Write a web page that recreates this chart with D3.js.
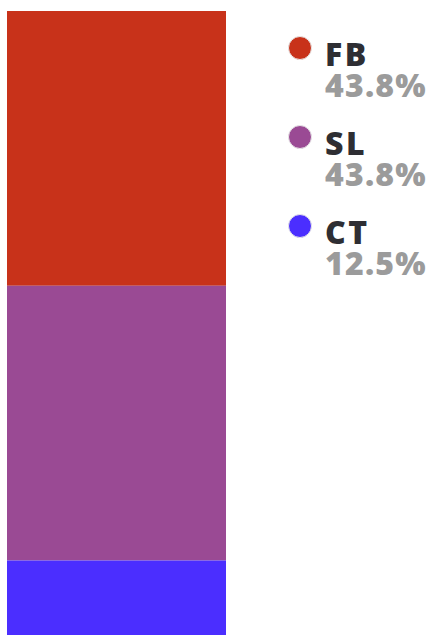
<!DOCTYPE html>
<html>
<head>
<meta charset="utf-8">
<script src="https://cdn.jsdelivr.net/npm/d3@7"></script>
<style>
  html, body { margin: 0; padding: 0; background: #fff; overflow: hidden; }
</style>
</head>
<body>
<div id="canvas"></div>
<script>
"use strict"

/* data */
let categories = ["FB", "SL", "CT"]
let counts = [7, 7, 2]
let colors = ["#c8321a", "#9a4a94", "#4b2eff"]

/* canvas */
let svgWidth = 431
let svgHeight = 635

let svg = d3.select("#canvas")
    .append("svg")
    .attr("width", svgWidth)
    .attr("height", svgHeight)

let total = d3.sum(counts)
let pct = d3.format(".1%")

/* stack the single bar, first category on top */
let rows = []
let acc = 0
categories.forEach(function (c, i) {
    rows.push({ key: c, y0: acc, y1: acc + counts[i], value: counts[i], color: colors[i] })
    acc += counts[i]
})

let yScale = d3.scaleLinear()
    .domain([0, total])
    .range([11, 639])         // bar runs a little past the bottom edge

let xScale = d3.scaleBand()
    .domain(["all"])
    .range([7, 226])
    .padding(0)

svg.selectAll("rect.seg")
    .data(rows)
    .join("rect")
    .attr("class", "seg")
    .attr("x", xScale("all"))
    .attr("width", xScale.bandwidth())
    .attr("y", function (d) { return yScale(d.y0) })
    .attr("height", function (d) { return yScale(d.y1) - yScale(d.y0) })
    .attr("fill", function (d) { return d.color })

/* legend */
let legendScale = d3.scalePoint()
    .domain(categories)
    .range([48, 226])

let legend = svg.selectAll("g.item")
    .data(rows)
    .join("g")
    .attr("class", "item")
    .attr("transform", function (d) { return "translate(300," + legendScale(d.key) + ")" })

legend.append("circle")
    .attr("r", 11.5)
    .attr("fill", function (d) { return d.color })
    .attr("stroke", "#e8e8e8")
    .attr("stroke-width", 1)

legend.append("text")
    .attr("x", 25)
    .attr("y", 18)
    .attr("font-family", "'Open Sans', sans-serif")
    .attr("font-weight", 800)
    .attr("font-size", "32px")
    .attr("letter-spacing", "2.5px")
    .attr("fill", "#2e2e33")
    .text(function (d) { return d.key })

legend.append("text")
    .attr("x", 25)
    .attr("y", 49)
    .attr("font-family", "'Open Sans', sans-serif")
    .attr("font-weight", 800)
    .attr("font-size", "32px")
    .attr("letter-spacing", "1.2px")
    .attr("fill", "#9b9b9b")
    .text(function (d) { return pct(d.value / total) })
</script>
</body>
</html>
